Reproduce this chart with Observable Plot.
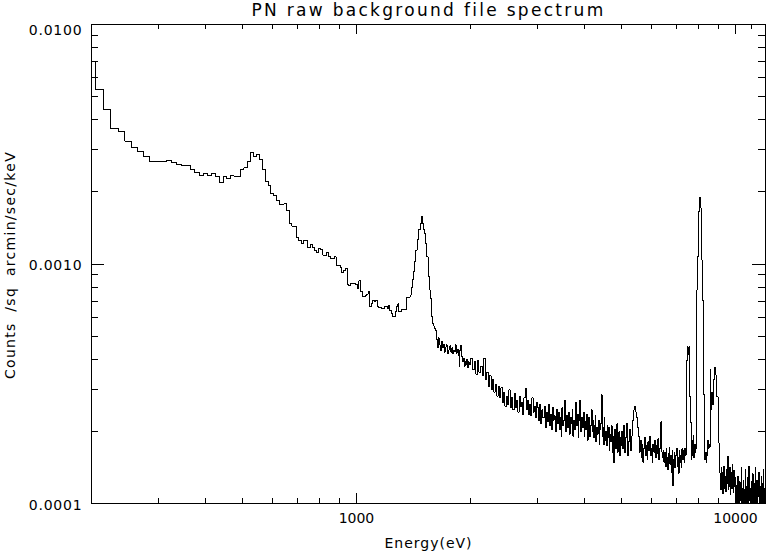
<!DOCTYPE html>
<html><head><meta charset="utf-8">
<script src="https://cdn.jsdelivr.net/npm/d3@7"></script>
<script src="https://cdn.jsdelivr.net/npm/@observablehq/plot@0.6"></script>
<style>
body{margin:0;background:#fff;}
#chart svg{display:block;}
#chart svg path, #chart svg line, #chart svg rect{shape-rendering:crispEdges;}
</style></head><body><div id="chart"></div>
<script>
const title = "PN raw background file spectrum";
const xLabel = "Energy(eV)";
const yLabel = "Counts /sq arcmin/sec/keV";
const xDomain = [200, 12000];
const yDomain = [0.0001, 0.01];
const xMajorTicks = [1000, 10000];
const xMinorTicks = [300, 400, 500, 600, 700, 800, 900, 2000, 3000, 4000, 5000, 6000, 7000, 8000, 9000, 11000];
const yMajorTicks = [0.0001, 0.001, 0.01];
const yMinorTicks = [0.0002, 0.0003, 0.0004, 0.0005, 0.0006, 0.0007, 0.0008, 0.0009,
                     0.002, 0.003, 0.004, 0.005, 0.006, 0.007, 0.008, 0.009];
const xTickText = ["1000", "10000"];
const yTickText = ["0.0001", "0.0010", "0.0100"];

// counts in units of 1e-4 counts /sq arcmin/sec/keV
const unit = 1e-4;
// channels of 10 eV from 195 eV
const seg1Start = 195, seg1Width = 10;
const seg1Counts = [
 69.9, 53.6, 44.2, 36.9, 35.9, 32.6, 30.7, 29.6, 28.0, 26.8,
 26.8, 26.7, 27.1, 26.5, 26.0, 25.8, 25.9, 24.9, 24.1, 23.5,
 23.8, 23.4, 23.9, 23.1, 21.9, 23.1, 22.8, 23.5, 23.3, 23.1,
 24.9, 25.2, 26.8, 29.3, 28.2, 28.7, 27.4, 24.9, 22.2, 21.2,
 19.7, 19.3, 18.5, 17.8, 17.8, 17.9, 16.7, 14.8, 14.4, 14.3,
 12.9, 12.5, 12.2, 12.5, 12.5, 11.7, 12.1, 11.7, 11.4, 11.2,
 11.6, 11.5, 10.9, 10.8, 11.2, 10.7, 10.5, 10.5, 10.7, 9.9,
 9.9, 9.7, 9.2, 9.4, 9.6, 8.2, 8.1, 8.3, 8.3, 8.3,
 8.2, 7.9, 8.5, 7.7, 7.3, 7.3, 7.4,
 7.49, 7.71, 6.63, 6.87, 7.07, 7.00, 7.07, 6.63, 6.59, 6.59,
 6.53, 6.53, 6.63, 6.63, 6.53, 6.72, 6.38, 6.22, 6.03, 6.03,
 6.36, 6.63, 6.81, 6.32, 6.32, 6.47, 6.47, 6.43, 6.43, 7.26,
 7.26, 7.26, 7.42, 7.99, 8.58, 9.32, 10.22, 11.44, 12.60, 13.96,
 13.96, 14.79, 15.75, 14.79, 13.87, 13.43, 12.20, 10.73, 8.85, 7.79,
 7.19, 6.03, 5.65, 5.51, 5.39, 5.27,
 4.82, 4.50, 4.91, 4.59, 4.37, 4.73, 4.46, 4.63, 4.29, 4.50,
 4.59, 4.21, 4.37, 4.46, 4.55, 4.29, 4.46, 4.21, 4.37, 4.33,
 4.59, 4.25, 4.41, 4.13, 3.75, 4.37, 4.55, 4.09, 3.90, 4.05,
 3.75, 3.93, 3.82, 4.01, 3.68, 3.90, 3.79, 3.97
];
// grouped channels of 20 eV from 2005 eV
const seg2Start = 2005, seg2Width = 20;
const seg2Counts = [
 4.05, 3.61, 3.90, 3.47, 3.97, 3.54, 3.75, 3.41, 4.05, 3.28,
 3.54, 3.09, 3.41, 2.98, 3.28, 2.92, 3.15, 2.81, 3.09, 2.76,
 3.04, 2.65, 2.92, 2.55, 2.81, 2.60, 2.98, 2.51, 2.76, 2.46,
 2.87, 2.51, 2.70, 2.41, 2.81, 2.55, 2.65, 2.36, 2.76, 3.01,
 2.46, 2.70, 2.36, 2.60, 2.32, 2.76, 2.41, 2.55, 2.28, 2.65,
 2.51, 2.23, 2.60, 2.15, 2.46, 2.28, 2.55, 2.07, 2.41, 2.19,
 2.60, 2.11, 2.36, 2.03, 2.51, 2.23, 2.32, 1.99, 2.46, 2.15,
 2.41, 2.03, 2.28, 1.91, 2.51, 2.11, 2.23, 2.70, 1.99, 2.32,
 2.07, 2.41, 1.95, 2.28, 2.15, 2.46, 1.91, 2.23, 2.03, 2.65,
 2.11, 2.36, 1.88, 2.23, 2.70, 1.99, 2.28, 2.07, 2.41, 1.91,
 2.19, 2.03, 2.36, 1.84, 2.15, 2.28, 1.91, 2.11, 2.46, 1.99,
 2.23, 1.88, 2.11, 2.32, 1.81, 2.07, 1.95, 2.23, 1.77, 2.03,
 2.15, 2.84, 1.91, 2.07, 1.77, 2.28, 1.84, 1.99, 1.74, 2.11,
 1.88, 2.07, 1.67, 1.95, 1.81, 2.11, 1.64, 1.91, 1.48, 1.84,
 2.03, 1.70, 1.91, 2.15, 1.64, 1.84, 1.99, 1.59, 1.88, 1.74
];
// grouped channels of 30 eV from 5005 eV
const seg3Start = 5005, seg3Width = 30;
const seg3Counts = [
 1.99, 1.70, 2.11, 1.64, 1.88, 2.15, 1.59, 1.81, 2.03, 1.67, 1.91, 2.07,
 2.23, 2.46, 2.54, 2.41, 2.28, 2.07, 1.91,
 1.64, 1.84, 1.55, 1.77, 1.49, 1.70, 1.88, 1.59, 1.74, 1.52,
 1.81, 1.67, 1.90, 1.58, 1.70, 1.48, 1.77, 1.64, 1.84, 1.55,
 1.74, 1.61, 1.86, 1.52, 1.70, 1.77, 2.19, 1.64, 1.56,
 1.67, 1.49, 1.64, 1.43, 1.70, 1.55, 1.38, 1.61, 1.72, 1.46,
 1.58, 1.35, 1.67, 1.19, 1.52, 1.64, 1.41, 1.59, 1.70, 1.43,
 1.55, 1.34, 1.66, 1.49, 1.58, 1.41, 1.69, 1.52,
 1.67, 1.49, 1.70, 1.59, 2.23,
 3.97, 4.52, 4.29, 4.17, 4.52,
 2.79, 2.17, 1.52,
 1.84, 1.59, 1.93, 1.55, 1.76, 1.64, 1.70, 4.82,
 7.79, 10.73, 14.55, 16.54, 18.99, 18.50, 17.13, 15.51, 10.39, 7.07, 4.24, 2.84, 2.09,
 1.52, 1.64, 1.49, 1.59,
 1.73, 1.84, 1.70, 1.77, 1.73,
 3.61,
 2.84, 2.46, 2.92, 2.58,
 2.70, 3.28, 3.71,
 3.54, 3.71, 3.44, 3.28,
 2.79, 2.79, 2.23, 1.79, 1.52, 1.34,
 1.28, 1.14, 1.41, 1.19, 1.35, 1.10, 1.25, 1.43, 1.16, 1.30,
 1.12, 1.38, 1.21, 1.33, 1.57, 1.14, 1.32, 1.18, 1.41, 1.09,
 1.25, 1.35, 1.15, 1.46, 1.23, 1.11, 1.38, 1.18, 1.28, 1.13,
 1.05, 1.19, 0.958, 1.14, 1.30, 0.986, 1.10, 0.939, 1.23, 1.03,
 1.12, 1.41, 0.976, 1.16, 0.922, 1.08, 1.25, 1.00, 1.14, 0.958,
 1.38, 1.05, 1.18, 0.939, 1.10, 1.28, 0.986, 1.12, 1.43, 1.03,
 1.16, 0.922, 1.07, 1.23, 0.976, 1.14, 1.33, 1.01, 1.10, 0.939,
 1.21, 1.05, 1.41, 0.976, 1.12, 1.03, 1.25, 0.939, 1.16, 1.07,
 1.35, 0.995, 1.14, 0.958, 1.18, 1.04, 1.30, 0.930, 1.11, 1.21,
 0.967, 1.38, 1.06, 1.15, 0.948, 1.24, 1.01
];

// build the step table (bin lower edges + closing edge)
const spectrum = [];
for (const [start, width, counts] of [[seg1Start, seg1Width, seg1Counts], [seg2Start, seg2Width, seg2Counts], [seg3Start, seg3Width, seg3Counts]]) {
  counts.forEach((c, i) => spectrum.push({energy: start + i * width, counts: c * unit}));
}
spectrum.push({energy: seg3Start + seg3Counts.length * seg3Width, counts: seg3Counts[seg3Counts.length - 1] * unit});

const W = 766, H = 553, mL = 91, mR = 1, mT = 24, mB = 50;
const plotW = W - mL - mR, plotH = H - mT - mB;
const font = "DejaVu Sans";
const txt = {fill: "#000", fontFamily: font, stroke: null, lineAnchor: "middle"};

const chart = Plot.plot({
  width: W, height: H,
  marginLeft: mL, marginRight: mR, marginTop: mT, marginBottom: mB,
  style: {fontFamily: font, fontSize: "14px", color: "#000", background: "#fff", overflow: "visible"},
  x: {type: "log", domain: xDomain, axis: null},
  y: {type: "log", domain: yDomain, axis: null},
  marks: [
    Plot.line(spectrum, {x: "energy", y: "counts", curve: "step-after", stroke: "#000", strokeWidth: 1, clip: true}),
    Plot.frame({stroke: "#000", strokeWidth: 1}),
    Plot.tickX(xMajorTicks, {x: d => d, insetTop: plotH - 10, stroke: "#000"}),
    Plot.tickX(xMinorTicks, {x: d => d, insetTop: plotH - 5, stroke: "#000"}),
    Plot.tickX(xMajorTicks, {x: d => d, insetBottom: plotH - 10, stroke: "#000"}),
    Plot.tickX(xMinorTicks, {x: d => d, insetBottom: plotH - 5, stroke: "#000"}),
    Plot.tickY(yMajorTicks, {y: d => d, insetRight: plotW - 13, stroke: "#000"}),
    Plot.tickY(yMinorTicks, {y: d => d, insetRight: plotW - 7, stroke: "#000"}),
    Plot.tickY(yMajorTicks, {y: d => d, insetLeft: plotW - 13, stroke: "#000"}),
    Plot.tickY(yMinorTicks, {y: d => d, insetLeft: plotW - 7, stroke: "#000"}),
    Plot.text(xMajorTicks, {x: d => d, text: (d, i) => xTickText[i], frameAnchor: "bottom", textAnchor: "middle", dy: 15, fontSize: 14, ...txt}),
    Plot.text(yMajorTicks.slice(0, 2), {y: d => d, text: (d, i) => yTickText[i], frameAnchor: "left", textAnchor: "end", dx: -9, dy: 2, fontSize: 14, ...txt}),
    Plot.text(yMajorTicks.slice(2), {y: d => d, text: () => yTickText[2], frameAnchor: "left", textAnchor: "end", dx: -9, dy: 6, fontSize: 14, ...txt}),
    Plot.text([xLabel], {text: d => d, frameAnchor: "bottom", textAnchor: "middle", dy: 40, fontSize: 14, ...txt}),
    Plot.text([yLabel], {text: d => d, frameAnchor: "left", textAnchor: "middle", dx: -81, dy: 1, rotate: -90, fontSize: 14, ...txt}),
    Plot.text([title], {text: d => d, frameAnchor: "top", textAnchor: "middle", dy: -14, fontSize: 17, ...txt})
  ]
});
// letter spacing of the vector-font lettering
const spacing = new Map([[title, [2.3, 0]], [yLabel, [1.3, 5]], [xLabel, [1, 0]], ["0.0001", [0.8, 0]], ["0.0010", [0.8, 0]], ["0.0100", [0.8, 0]]]);
d3.select(chart).selectAll("text").each(function () {
  const s = spacing.get(this.textContent);
  if (s) d3.select(this).style("letter-spacing", s[0] + "px").style("word-spacing", s[1] + "px");
});
document.getElementById("chart").appendChild(chart);
</script>
</body></html>
